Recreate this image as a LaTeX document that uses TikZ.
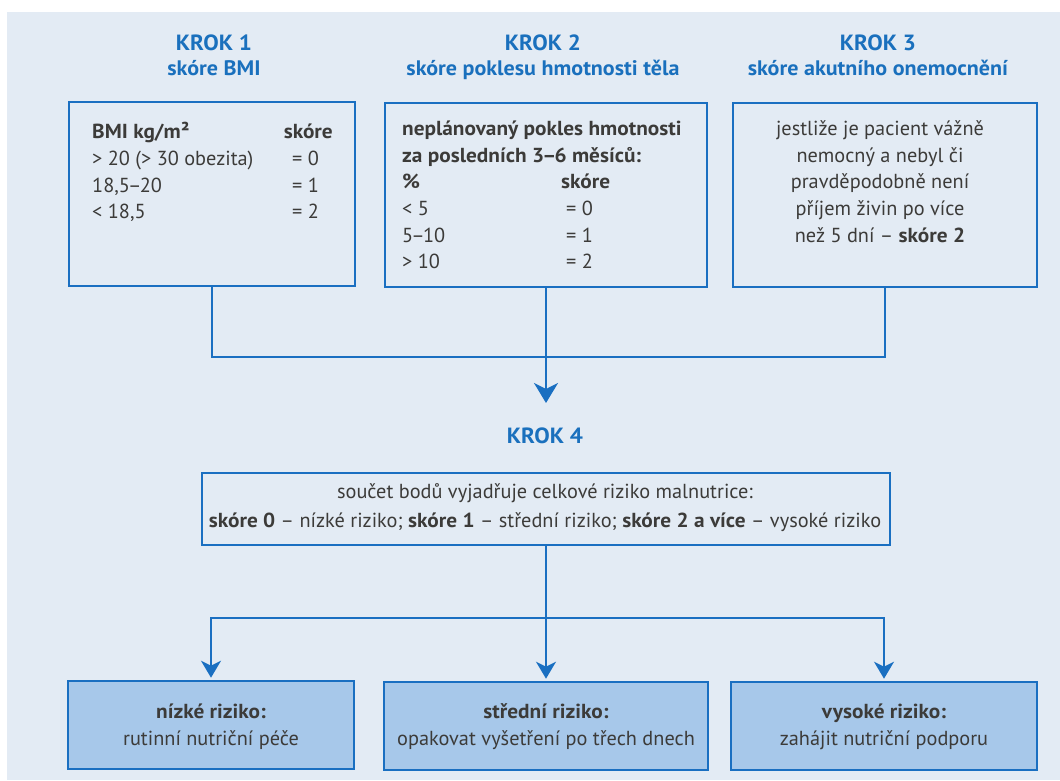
\documentclass[tikz,border=0pt]{standalone}
\usepackage{fontspec}
\setmainfont{PT Sans}[BoldFeatures={FakeStretch=1.05}]
\usetikzlibrary{arrows.meta}
\definecolor{frameblue}{HTML}{1A6FC1}
\definecolor{titleblue}{HTML}{1A70BD}
\definecolor{paper}{HTML}{E3EBF4}
\definecolor{boxfill}{HTML}{A7C8EA}
\definecolor{ink}{HTML}{3C3B39}
% tight dash for number ranges
\newcommand\rangedash{\kern-1.8pt–\kern-1.8pt}
\begin{document}
\begin{tikzpicture}[x=1pt,y=-1pt,
  frame/.style={draw=frameblue, line width=2.6pt, inner sep=0pt},
  outbox/.style={frame, fill=boxfill},
  link/.style={draw=frameblue, line width=2.3pt},
  bigtip/.style={-{Stealth[length=20pt,width=24pt,inset=6pt]}},
  smalltip/.style={-{Stealth[length=17pt,width=20pt,inset=5pt]}, shorten >=2pt},
  krok/.style={text=titleblue, font=\fontsize{22}{26}\selectfont\bfseries, anchor=base, inner sep=0pt},
  subtitle/.style={text=titleblue, font=\fontsize{21}{25}\selectfont\bfseries, anchor=base, inner sep=0pt},
  body/.style={text=ink, font=\fontsize{20.3}{24}\selectfont, inner sep=0pt},
  lcell/.style={body, anchor=base west},
  ccell/.style={body, anchor=base},
  rcell/.style={body, anchor=base east},
]
% paper
\useasboundingbox (0,0) rectangle (1060,780);
\fill[white] (0,0) rectangle (1060,780);
\fill[paper] (7,12) rectangle (1060,780);

% step titles
\node[krok] (k1) at (214,50) {KROK 1};
\node[subtitle] (s1) at (214,75) {skóre BMI};
\node[krok] (k2) at (543,50) {KROK 2};
\node[subtitle] (s2) at (543,75) {skóre poklesu hmotnosti těla};
\node[krok] (k3) at (878,50) {KROK 3};
\node[subtitle] (s3) at (878,75) {skóre akutního onemocnění};
\node[krok] (k4) at (545,443) {KROK 4};

% upper boxes
\node[frame, minimum width=286pt, minimum height=184pt] (b1) at (212,194) {};
\node[frame, minimum width=322pt, minimum height=184pt] (b2) at (546,195) {};
\node[frame, minimum width=304pt, minimum height=184pt] (b3) at (885,195) {};

% step 1 table
\node[lcell] (b1h) at (92,138) {\textbf{BMI kg/m²}};
\node[rcell] (b1hs) at (333,138) {\textbf{skóre}};
\node[lcell] (b1a) at (92,165) {> 20 (> 30 obezita)};
\node[lcell] (b1as) at (292,165) {= 0};
\node[lcell] (b1b) at (92,192) {18,5\rangedash 20};
\node[lcell] (b1bs) at (292,192) {= 1};
\node[lcell] (b1c) at (92,218) {< 18,5};
\node[lcell] (b1cs) at (292,218) {= 2};

% step 2 table
\node[lcell] (b2h1) at (402,135) {\textbf{neplánovaný pokles hmotnosti}};
\node[lcell] (b2h2) at (402,162) {\textbf{za posledních 3\rangedash 6 měsíců:}};
\node[lcell] (b2h3) at (402,188) {\textbf{\%}};
\node[lcell] (b2h3s) at (561,188) {\textbf{skóre}};
\node[lcell] (b2a) at (402,215) {< 5};
\node[lcell] (b2as) at (566,215) {= 0};
\node[lcell] (b2b) at (402,242) {5\rangedash 10};
\node[lcell] (b2bs) at (566,242) {= 1};
\node[lcell] (b2c) at (402,268) {> 10};
\node[lcell] (b2cs) at (566,268) {= 2};

% step 3 text
\node[ccell] (b3a) at (880,135) {jestliže je pacient vážně};
\node[ccell] (b3b) at (880,162) {nemocný a nebyl či};
\node[ccell] (b3c) at (880,188) {pravděpodobně není};
\node[ccell] (b3d) at (880,215) {příjem živin po více};
\node[ccell] (b3e) at (880,242) {než 5 dní – \textbf{skóre 2}};

% step 4 box
\node[frame, minimum width=688pt, minimum height=72pt] (b4) at (546,509) {};
\node[ccell] (b4a) at (545,498) {součet bodů vyjadřuje celkové riziko malnutrice:};
\node[ccell] (b4b) at (545,527) {\textbf{skóre 0} – nízké riziko; \textbf{skóre 1} – střední riziko; \textbf{skóre 2 a více} – vysoké riziko};

% outcome boxes
\node[outbox, minimum width=286pt, minimum height=88pt] (b5) at (211,725) {};
\node[outbox, minimum width=324pt, minimum height=88pt] (b6) at (546,726) {};
\node[outbox, minimum width=306pt, minimum height=88pt] (b7) at (884,726) {};
\node[ccell] (b5a) at (211,718) {\textbf{nízké riziko:}};
\node[ccell] (b5b) at (211,745) {rutinní nutriční péče};
\node[ccell] (b6a) at (546,718) {\textbf{střední riziko:}};
\node[ccell] (b6b) at (546,745) {opakovat vyšetření po třech dnech};
\node[ccell] (b7a) at (884,718) {\textbf{vysoké riziko:}};
\node[ccell] (b7b) at (884,745) {zahájit nutriční podporu};

% connectors
\coordinate (j1) at (546,357);
\coordinate (a4) at (546,403);
\coordinate (j2) at (546,618);
\draw[link] (b1.south) |- (j1) -| (b3.south);
\draw[link, bigtip] (b2.south) -- (a4);
\draw[link] (b4.south) -- (j2);
\draw[link, smalltip] (j2) -- (b6.north);
\draw[link, smalltip] (j2) -| (b5.north);
\draw[link, smalltip] (j2) -| (b7.north);
\end{tikzpicture}
\end{document}
